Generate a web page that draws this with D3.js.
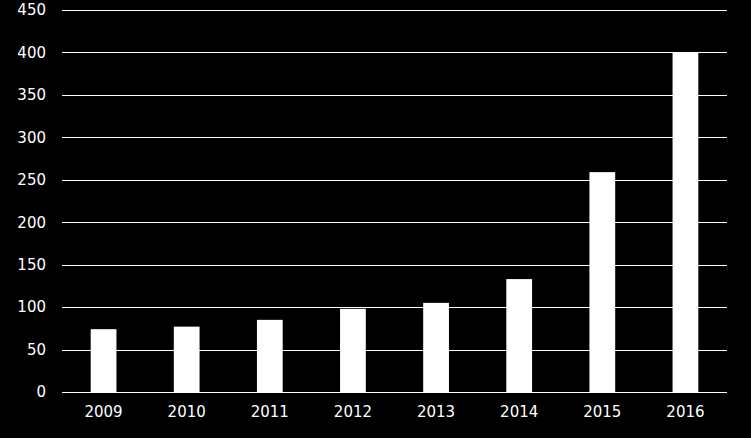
<!DOCTYPE html>
<html>
<head>
<meta charset="utf-8">
<script src="https://cdn.jsdelivr.net/npm/d3@7"></script>
<style>
  body { margin: 0; background: #000; }
  svg { display: block; }
</style>
</head>
<body>
<svg></svg>
<script>
const width = 751
const height = 438
const years = ["2009", "2010", "2011", "2012", "2013", "2014", "2015", "2016"]
const values = [74, 77, 85, 98, 105, 133, 259, 400]
const yTicks = [0, 50, 100, 150, 200, 250, 300, 350, 400, 450]

const plotLeft = 62, plotRight = 727, plotTop = 10, plotBottom = 392

const svg = d3.select("svg")
    .attr("width", width)
    .attr("height", height)
    .style("background", "#000")

const xScale = d3.scaleBand()
    .domain(years)
    .range([plotLeft, plotRight])

const yScale = d3.scaleLinear()
    .domain([0, 450])
    .range([plotBottom, plotTop])

// gridlines
svg.append("g")
    .selectAll("line")
    .data(yTicks)
    .enter()
    .append("line")
        .attr("x1", plotLeft)
        .attr("x2", plotRight)
        .attr("y1", d => Math.round(yScale(d)) + 0.5)
        .attr("y2", d => Math.round(yScale(d)) + 0.5)
        .style("stroke", "#fff")
        .style("stroke-width", 1)

const barW = xScale.bandwidth() * 0.31

svg.append("g")
    .selectAll("rect")
    .data(values)
    .enter()
    .append("rect")
        .attr("x", (d, i) => xScale(years[i]) + (xScale.bandwidth() - barW) / 2)
        .attr("y", d => yScale(d))
        .attr("width", barW)
        .attr("height", d => plotBottom - yScale(d))
        .style("fill", "#fff")

const yAxis = d3.axisLeft(yScale).tickValues(yTicks).tickSize(0).tickPadding(16)
const xAxis = d3.axisBottom(xScale).tickSize(0).tickPadding(14)

const gy = svg.append("g")
    .attr("transform", `translate(${plotLeft}, 0)`)
    .call(yAxis)
gy.select(".domain").remove()

const gx = svg.append("g")
    .attr("transform", `translate(0, ${plotBottom})`)
    .call(xAxis)
gx.select(".domain").remove()

svg.selectAll(".tick text")
    .style("fill", "#fff")
    .style("font-family", "DejaVu Sans, Verdana, sans-serif")
    .style("font-size", "15px")
</script>
</body>
</html>
